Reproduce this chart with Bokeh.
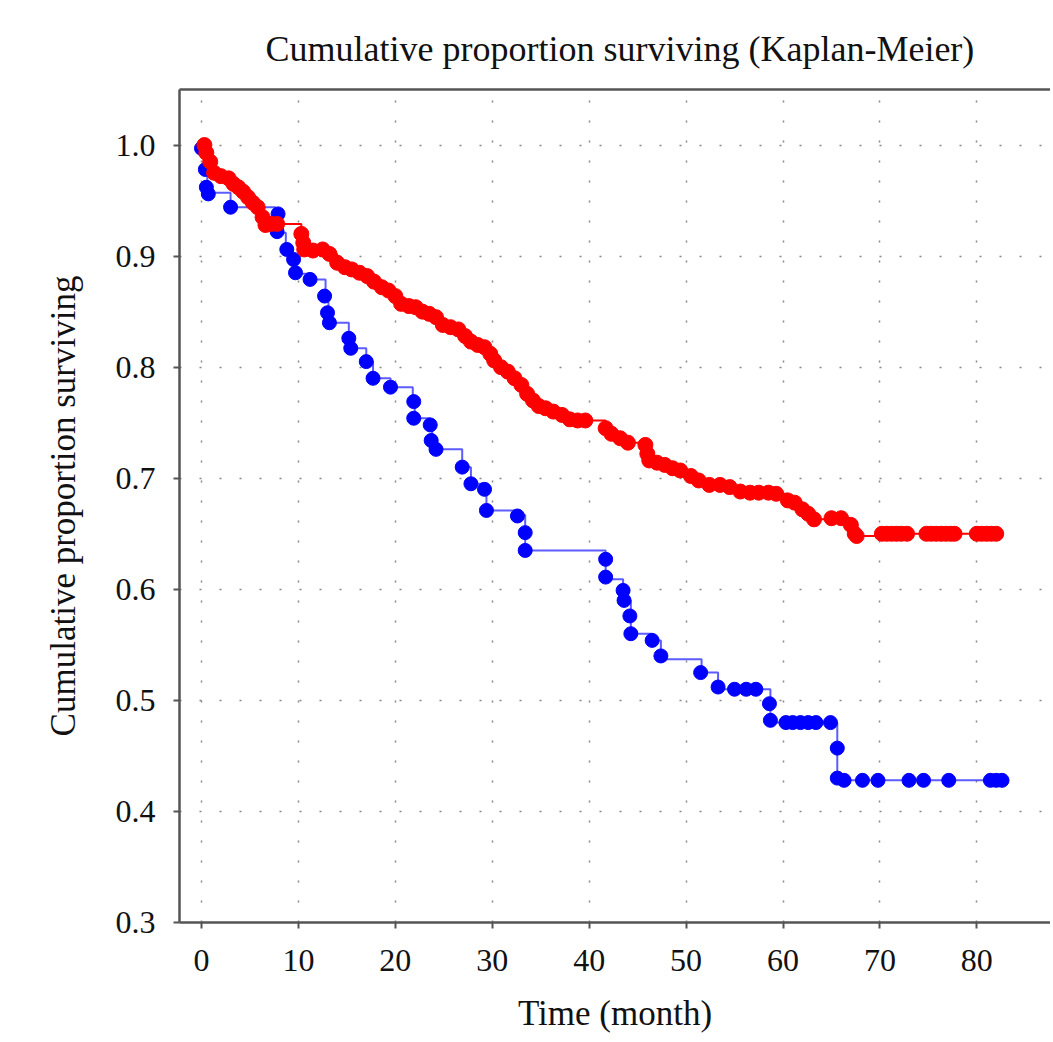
from bokeh.plotting import figure
from bokeh.models import Range1d, FixedTicker, LinearAxis, PrintfTickFormatter
from bokeh.embed import file_html
from bokeh.resources import INLINE

# ---- data ----
x_ticks = [0, 10, 20, 30, 40, 50, 60, 70, 80]
y_ticks = [0.3, 0.4, 0.5, 0.6, 0.7, 0.8, 0.9, 1.0]

blue_step_t = [0, 0.6, 3.0, 7.6, 8.2, 8.7, 9.4, 9.7, 11.2, 12.8, 13.1, 15.2, 15.5, 17.0, 17.7,
               19.5, 21.8, 22.0, 23.6, 23.8, 24.3, 26.9, 27.8, 29.2, 29.4, 32.7, 33.4, 41.7,
               43.5, 44.3, 46.5, 47.4, 51.6, 53.3, 58.7, 65.6, 82.5]
blue_step_s = [1.0, 0.957, 0.944, 0.938, 0.921, 0.906, 0.899, 0.884, 0.879, 0.862, 0.840, 0.825,
               0.817, 0.805, 0.790, 0.782, 0.769, 0.754, 0.748, 0.734, 0.726, 0.710, 0.695, 0.690,
               0.671, 0.667, 0.635, 0.609, 0.590, 0.560, 0.554, 0.537, 0.525, 0.510, 0.480, 0.428,
               0.428]

blue_mark_t = [0.0, 0.4, 0.5, 0.7, 3.0, 7.9, 7.8, 8.8, 9.5, 9.7, 11.2, 12.7, 13.0, 13.2, 15.2,
               15.4, 17.0, 17.7, 19.5, 21.9, 21.9, 23.6, 23.7, 24.2, 26.9, 27.8, 29.2, 29.4,
               32.6, 33.4, 33.4, 41.7, 41.7, 43.5, 43.6, 44.2, 44.3, 46.5, 47.4, 51.5, 53.3,
               55.0, 56.2, 57.2, 58.6, 58.7, 60.3, 61.0, 61.8, 62.6, 63.4, 64.9, 65.6, 65.6,
               66.3, 68.2, 69.8, 73.0, 74.5, 77.1, 81.4, 82.0, 82.6]
blue_mark_s = [0.997, 0.978, 0.962, 0.956, 0.944, 0.938, 0.922, 0.906, 0.897, 0.885, 0.879, 0.864,
               0.849, 0.840, 0.826, 0.817, 0.805, 0.790, 0.782, 0.769, 0.754, 0.748, 0.734, 0.726,
               0.710, 0.695, 0.690, 0.671, 0.666, 0.651, 0.635, 0.627, 0.611, 0.599, 0.590, 0.576,
               0.560, 0.554, 0.540, 0.525, 0.512, 0.510, 0.510, 0.510, 0.497, 0.482, 0.480, 0.480,
               0.480, 0.480, 0.480, 0.480, 0.457, 0.430, 0.428, 0.428, 0.428, 0.428, 0.428, 0.428,
               0.428, 0.428, 0.428]

red_t = [0.3, 0.5, 0.9, 1.3, 2.0, 2.8, 3.3, 3.8, 4.3, 4.8, 5.3, 5.8, 6.3, 6.6, 7.2, 7.8, 10.3,
         10.5, 10.6, 11.5, 12.5, 13.2, 14.0, 14.8, 15.5, 16.3, 17.1, 17.8, 18.6, 19.3, 20.0, 20.6,
         21.4, 22.1, 22.8, 23.5, 24.2, 24.9, 25.7, 26.5, 27.2, 27.8, 28.5, 29.2, 29.8, 30.2, 30.9,
         31.6, 32.3, 33.0, 33.6, 34.2, 34.8, 35.5, 36.3, 37.2, 38.0, 38.8, 39.6, 41.7, 42.3, 43.2,
         44.0, 45.8, 46.0, 46.2, 47.0, 47.8, 48.6, 49.4, 50.5, 51.3, 52.4, 53.5, 54.5, 55.6, 56.6,
         57.5, 58.5, 59.3, 60.5, 61.2, 62.0, 62.6, 63.2, 65.0, 66.0, 67.0, 67.4, 67.6,
         70.2, 70.7, 71.2, 71.7, 72.2, 72.8, 74.8, 75.3, 75.8, 76.3, 76.8, 77.3, 77.7,
         80.0, 80.5, 81.0, 81.5, 82.0]
red_s = [1.000, 0.993, 0.985, 0.975, 0.972, 0.970, 0.965, 0.962, 0.958, 0.953, 0.948, 0.944, 0.935,
         0.928, 0.929, 0.929, 0.920, 0.912, 0.906, 0.905, 0.906, 0.902, 0.894, 0.890, 0.888, 0.885,
         0.882, 0.877, 0.872, 0.869, 0.864, 0.857, 0.855, 0.854, 0.850, 0.848, 0.845, 0.838, 0.836,
         0.834, 0.828, 0.823, 0.820, 0.818, 0.812, 0.806, 0.800, 0.796, 0.790, 0.784, 0.776, 0.770,
         0.765, 0.763, 0.760, 0.757, 0.753, 0.752, 0.752, 0.745, 0.740, 0.736, 0.732, 0.730, 0.722,
         0.716, 0.714, 0.712, 0.709, 0.707, 0.702, 0.698, 0.694, 0.694, 0.692, 0.688, 0.687, 0.687,
         0.687, 0.686, 0.680, 0.678, 0.672, 0.668, 0.663, 0.664, 0.664, 0.658, 0.650, 0.648,
         0.650, 0.650, 0.650, 0.650, 0.650, 0.650, 0.650, 0.650, 0.650, 0.650, 0.650, 0.650, 0.650,
         0.650, 0.650, 0.650, 0.650, 0.650]

FONT = "Liberation Serif"

p = figure(frame_width=871, frame_height=833,
           x_range=Range1d(-2.27, 87.6), y_range=Range1d(0.3, 1.05),
           output_backend="svg", toolbar_location=None,
           min_border_left=179, min_border_top=89, min_border_right=0, min_border_bottom=110,
           title="Cumulative proportion surviving (Kaplan-Meier)")
p.outline_line_color = None
p.background_fill_color = "white"
p.border_fill_color = "white"

p.title.text_font = FONT
p.title.text_font_size = "36px"
p.title.text_font_style = "normal"
p.title.text_color = "#111111"
p.title.align = "left"
p.title.offset = 86
p.title.standoff = 42

for ax in (p.xaxis[0], p.yaxis[0]):
    ax.axis_line_color = "#555555"
    ax.axis_line_width = 2.5
    ax.major_tick_line_color = "#555555"
    ax.major_tick_line_width = 2
    ax.major_tick_in = 0
    ax.major_tick_out = 6
    ax.minor_tick_line_color = None
    ax.major_label_text_font = FONT
    ax.major_label_text_font_size = "32px"
    ax.major_label_text_color = "#111111"
    ax.axis_label_text_font = FONT
    ax.axis_label_text_font_size = "35px"
    ax.axis_label_text_font_style = "normal"
    ax.axis_label_text_color = "#111111"

p.xaxis.ticker = FixedTicker(ticks=x_ticks)
p.yaxis.ticker = FixedTicker(ticks=y_ticks)
p.yaxis.formatter = PrintfTickFormatter(format="%.1f")
p.xaxis.axis_label = "Time (month)"
p.yaxis.axis_label = "Cumulative proportion surviving"
p.xaxis.major_label_standoff = 21
p.yaxis.major_label_standoff = 18
p.xaxis.axis_label_standoff = 20
p.yaxis.axis_label_standoff = 30

top = LinearAxis(ticker=FixedTicker(ticks=[]), axis_line_color="#555555", axis_line_width=2.5,
                 major_tick_line_color=None, minor_tick_line_color=None,
                 major_label_text_font_size="0px")
p.add_layout(top, "above")

p.grid.grid_line_color = "#888888"
p.grid.grid_line_width = 1.5
p.grid.grid_line_dash = "2 18"

p.step(blue_step_t, blue_step_s, mode="after", line_color="#4040ff", line_width=2, line_alpha=0.85)
p.scatter(blue_mark_t, blue_mark_s, marker="circle", size=14, fill_color="#0000ff",
          line_color="#0000ff", line_width=1)

p.step(red_t, red_s, mode="after", line_color="#ff0000", line_width=2)
p.scatter(red_t, red_s, marker="circle", size=15, fill_color="#ff0000",
          line_color="#ff0000", line_width=1)

open("out.html", "w").write(file_html(p, INLINE))
